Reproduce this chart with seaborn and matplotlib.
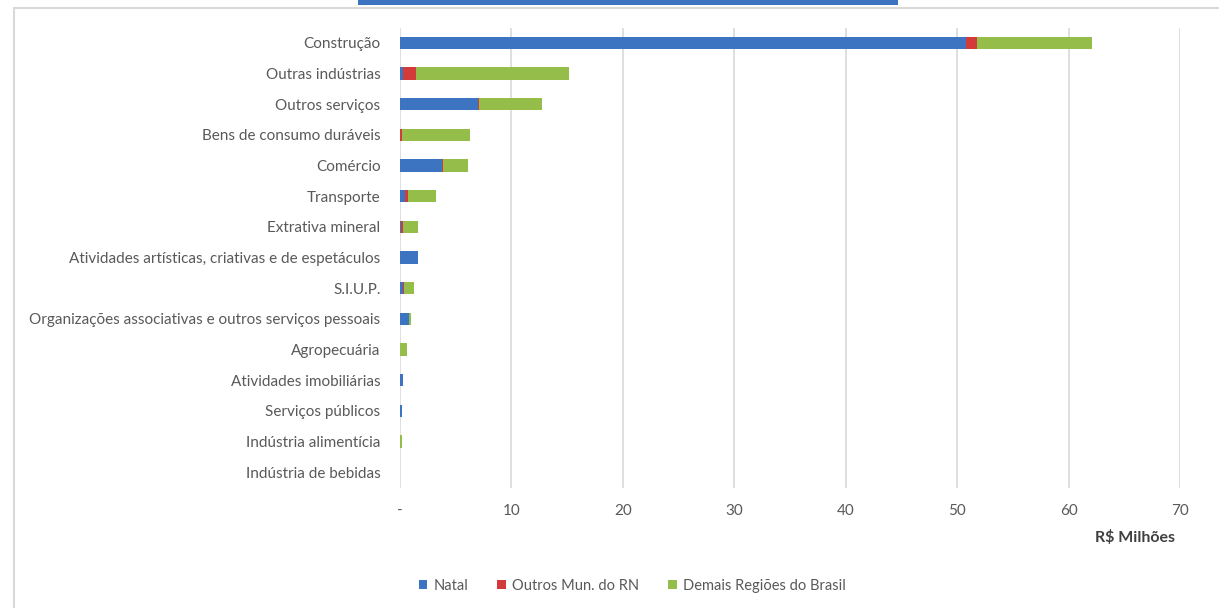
import matplotlib
matplotlib.use("Agg")
import matplotlib.pyplot as plt
import seaborn as sns
import pandas as pd
import numpy as np
from matplotlib.patches import Rectangle, Patch

categories = [
    "Construção", "Outras indústrias", "Outros serviços", "Bens de consumo duráveis",
    "Comércio", "Transporte", "Extrativa mineral",
    "Atividades artísticas, criativas e de espetáculos", "S.I.U.P.",
    "Organizações associativas e outros serviços pessoais", "Agropecuária",
    "Atividades imobiliárias", "Serviços públicos", "Indústria alimentícia",
    "Indústria de bebidas",
]
natal = [50.8, 0.3, 7.0, 0.0, 3.8, 0.45, 0.05, 1.6, 0.3, 0.8, 0.0, 0.25, 0.15, 0.0, 0.0]
outros_rn = [1.0, 1.1, 0.1, 0.15, 0.1, 0.25, 0.25, 0.0, 0.05, 0.0, 0.0, 0.0, 0.0, 0.0, 0.0]
demais = [10.3, 13.8, 5.6, 6.15, 2.2, 2.5, 1.3, 0.0, 0.95, 0.15, 0.65, 0.0, 0.0, 0.15, 0.0]
series_names = ["Natal", "Outros Mun. do RN", "Demais Regiões do Brasil"]
x_ticks = [0, 10, 20, 30, 40, 50, 60, 70]
x_ticklabels = ["-", "10", "20", "30", "40", "50", "60", "70"]

colors = ["#3C74C2", "#D33B3B", "#95BD4A"]

sns.set_style("white")
plt.rcParams["font.family"] = ["Lato", "DejaVu Sans"]

df = pd.DataFrame({"cat": categories, "natal": natal, "outros": outros_rn, "demais": demais})
df["c1"] = df["natal"]
df["c2"] = df["natal"] + df["outros"]
df["c3"] = df["c2"] + df["demais"]

fig = plt.figure(figsize=(12.19, 6.08), dpi=100)
ax = fig.add_axes([400 / 1219, 1 - 487.5 / 608, 780 / 1219, 460 / 608])

for col, colr in zip(["c3", "c2", "c1"], colors[::-1]):
    sns.barplot(data=df, x=col, y="cat", order=categories, color=colr, orient="h",
                width=0.4, ax=ax, saturation=1, edgecolor="none", linewidth=0, zorder=3)

ax.set_xlim(0, 70)
ax.set_ylim(len(categories) - 0.5, -0.5)
ax.set_xticks(x_ticks)
ax.set_xticklabels(x_ticklabels)
ax.grid(axis="x", color="#D9D9D9", linewidth=1.2, zorder=0)
ax.grid(axis="y", visible=False)
for s in ax.spines.values():
    s.set_visible(False)
ax.set_xlabel("")
ax.set_ylabel("")
ax.tick_params(axis="both", length=0, colors="#595959", labelsize=11)
ax.tick_params(axis="y", pad=14)
ax.tick_params(axis="x", pad=12)

fig.text(1175 / 1219, 1 - 537 / 608, "R$ Milhões", ha="right", va="center",
         fontsize=11.5, fontweight="bold", color="#404040")

handles = [Patch(facecolor=c, edgecolor="none") for c in colors]
fig.legend(handles, series_names, loc="center", bbox_to_anchor=(632 / 1219, 1 - 586 / 608),
           ncol=3, frameon=False, fontsize=10.5, handlelength=0.6, handleheight=0.6,
           handletextpad=0.4, columnspacing=2.0, labelcolor="#595959")

# chart frame and top decoration
fig.patches.append(Rectangle((14 / 1219, -0.01), 1.05, 1 - 8 / 608 + 0.01, transform=fig.transFigure,
                             fill=False, edgecolor="#D9D9D9", linewidth=1.5))
fig.patches.append(Rectangle((358 / 1219, 1 - 5 / 608), 540 / 1219, 5 / 608, transform=fig.transFigure,
                             facecolor="#3C74C2", edgecolor="none"))

fig.savefig("out.png", dpi=100)
